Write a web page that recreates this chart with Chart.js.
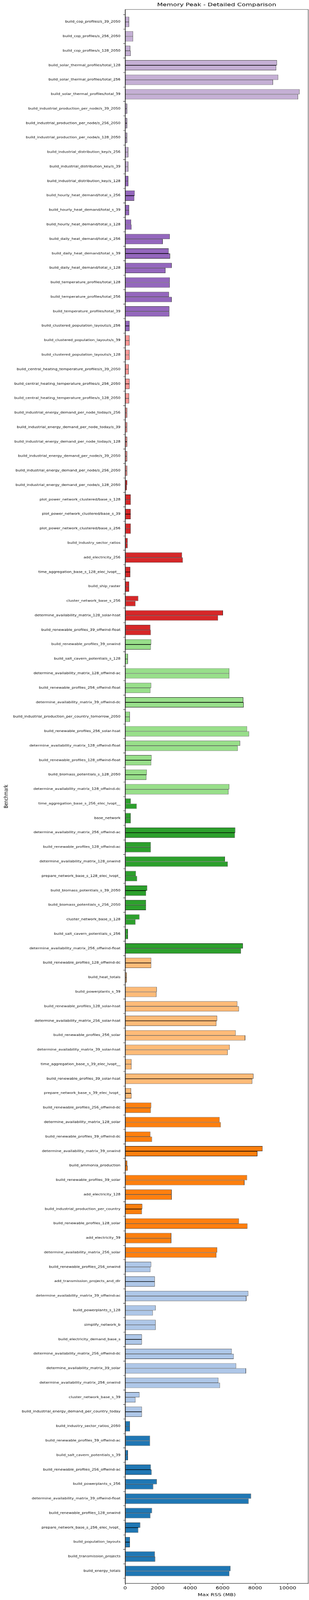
<!DOCTYPE html>
<html>
<head>
<meta charset="utf-8">
<title>Memory Peak - Detailed Comparison</title>
<script src="https://cdn.jsdelivr.net/npm/chart.js@4/dist/chart.umd.min.js"></script>
<style>
  html, body { margin: 0; padding: 0; width: 100%; height: 100%; background: #fff; overflow: hidden; }
  #wrap { position: absolute; left: 0; top: 0; width: 790px; height: 5390px; transform-origin: 0 0; }
  canvas { display: block; }
</style>
</head>
<body>
<div id="wrap"><canvas id="memChart" style="width:790px;height:5390px"></canvas></div>
<script>
// benchmarks, listed top to bottom as they appear on the chart
const benchmarks = [
  "build_cop_profiles/s_39_2050",
  "build_cop_profiles/s_256_2050",
  "build_cop_profiles/s_128_2050",
  "build_solar_thermal_profiles/total_128",
  "build_solar_thermal_profiles/total_256",
  "build_solar_thermal_profiles/total_39",
  "build_industrial_production_per_node/s_39_2050",
  "build_industrial_production_per_node/s_256_2050",
  "build_industrial_production_per_node/s_128_2050",
  "build_industrial_distribution_key/s_256",
  "build_industrial_distribution_key/s_39",
  "build_industrial_distribution_key/s_128",
  "build_hourly_heat_demand/total_s_256",
  "build_hourly_heat_demand/total_s_39",
  "build_hourly_heat_demand/total_s_128",
  "build_daily_heat_demand/total_s_256",
  "build_daily_heat_demand/total_s_39",
  "build_daily_heat_demand/total_s_128",
  "build_temperature_profiles/total_128",
  "build_temperature_profiles/total_256",
  "build_temperature_profiles/total_39",
  "build_clustered_population_layouts/s_256",
  "build_clustered_population_layouts/s_39",
  "build_clustered_population_layouts/s_128",
  "build_central_heating_temperature_profiles/s_39_2050",
  "build_central_heating_temperature_profiles/s_256_2050",
  "build_central_heating_temperature_profiles/s_128_2050",
  "build_industrial_energy_demand_per_node_today/s_256",
  "build_industrial_energy_demand_per_node_today/s_39",
  "build_industrial_energy_demand_per_node_today/s_128",
  "build_industrial_energy_demand_per_node/s_39_2050",
  "build_industrial_energy_demand_per_node/s_256_2050",
  "build_industrial_energy_demand_per_node/s_128_2050",
  "plot_power_network_clustered/base_s_128",
  "plot_power_network_clustered/base_s_39",
  "plot_power_network_clustered/base_s_256",
  "build_industry_sector_ratios",
  "add_electricity_256",
  "time_aggregation_base_s_128_elec_lvopt__",
  "build_ship_raster",
  "cluster_network_base_s_256",
  "determine_availability_matrix_128_solar-hsat",
  "build_renewable_profiles_39_offwind-float",
  "build_renewable_profiles_39_onwind",
  "build_salt_cavern_potentials_s_128",
  "determine_availability_matrix_128_offwind-ac",
  "build_renewable_profiles_256_offwind-float",
  "determine_availability_matrix_39_offwind-dc",
  "build_industrial_production_per_country_tomorrow_2050",
  "build_renewable_profiles_256_solar-hsat",
  "determine_availability_matrix_128_offwind-float",
  "build_renewable_profiles_128_offwind-float",
  "build_biomass_potentials_s_128_2050",
  "determine_availability_matrix_128_offwind-dc",
  "time_aggregation_base_s_256_elec_lvopt__",
  "base_network",
  "determine_availability_matrix_256_offwind-ac",
  "build_renewable_profiles_128_offwind-ac",
  "determine_availability_matrix_128_onwind",
  "prepare_network_base_s_128_elec_lvopt_",
  "build_biomass_potentials_s_39_2050",
  "build_biomass_potentials_s_256_2050",
  "cluster_network_base_s_128",
  "build_salt_cavern_potentials_s_256",
  "determine_availability_matrix_256_offwind-float",
  "build_renewable_profiles_128_offwind-dc",
  "build_heat_totals",
  "build_powerplants_s_39",
  "build_renewable_profiles_128_solar-hsat",
  "determine_availability_matrix_256_solar-hsat",
  "build_renewable_profiles_256_solar",
  "determine_availability_matrix_39_solar-hsat",
  "time_aggregation_base_s_39_elec_lvopt__",
  "build_renewable_profiles_39_solar-hsat",
  "prepare_network_base_s_39_elec_lvopt_",
  "build_renewable_profiles_256_offwind-dc",
  "determine_availability_matrix_128_solar",
  "build_renewable_profiles_39_offwind-dc",
  "determine_availability_matrix_39_onwind",
  "build_ammonia_production",
  "build_renewable_profiles_39_solar",
  "add_electricity_128",
  "build_industrial_production_per_country",
  "build_renewable_profiles_128_solar",
  "add_electricity_39",
  "determine_availability_matrix_256_solar",
  "build_renewable_profiles_256_onwind",
  "add_transmission_projects_and_dlr",
  "determine_availability_matrix_39_offwind-ac",
  "build_powerplants_s_128",
  "simplify_network_b",
  "build_electricity_demand_base_s",
  "determine_availability_matrix_256_offwind-dc",
  "determine_availability_matrix_39_solar",
  "determine_availability_matrix_256_onwind",
  "cluster_network_base_s_39",
  "build_industrial_energy_demand_per_country_today",
  "build_industry_sector_ratios_2050",
  "build_renewable_profiles_39_offwind-ac",
  "build_salt_cavern_potentials_s_39",
  "build_renewable_profiles_256_offwind-ac",
  "build_powerplants_s_256",
  "determine_availability_matrix_39_offwind-float",
  "build_renewable_profiles_128_onwind",
  "prepare_network_base_s_256_elec_lvopt_",
  "build_population_layouts",
  "build_transmission_projects",
  "build_energy_totals"
];

// max RSS in MB, upper bar of each pair
const rssUpper = [
  245, 490, 318, 9351, 9425, 10734, 122, 122, 122, 196,
  196, 196, 588, 245, 367, 2742, 2681, 2864, 2742, 2693,
  2717, 269, 269, 269, 220, 269, 245, 122, 122, 122,
  122, 122, 122, 343, 343, 343, 147, 3501, 318, 245,
  808, 6022, 1554, 1603, 171, 6414, 1603, 7271, 294, 7503,
  7075, 1628, 1334, 6414, 343, 343, 6781, 1579, 6144, 661,
  1359, 1285, 881, 171, 7246, 1603, 98, 1946, 6903, 5667,
  6805, 6438, 392, 7895, 367, 1603, 5814, 1554, 8458, 122,
  7503, 2864, 1053, 7001, 2840, 5667, 1603, 1824, 7577, 1873,
  1873, 1028, 6561, 6830, 5741, 881, 1028, 294, 1530, 171,
  1579, 1946, 7748, 1652, 930, 294, 1824, 6487
];

// max RSS in MB, lower bar of each pair
const rssLower = [
  245, 490, 343, 9302, 9107, 10649, 122, 122, 122, 196,
  196, 196, 563, 245, 392, 2313, 2766, 2485, 2742, 2864,
  2717, 269, 269, 269, 220, 269, 245, 122, 122, 122,
  122, 122, 98, 343, 343, 343, 147, 3550, 318, 245,
  636, 5716, 1579, 1579, 171, 6414, 1554, 7295, 294, 7626,
  6928, 1603, 1310, 6365, 710, 343, 6756, 1579, 6316, 734,
  1285, 1285, 636, 171, 7124, 1603, 98, 1922, 7001, 5618,
  7393, 6316, 392, 7821, 392, 1579, 5887, 1652, 8140, 147,
  7344, 2864, 1028, 7528, 2840, 5618, 1554, 1824, 7466, 1701,
  1873, 1028, 6683, 7442, 5838, 636, 1028, 294, 1530, 171,
  1628, 1726, 7601, 1554, 808, 294, 1848, 6414
];

const xTicks = [0, 2000, 4000, 6000, 8000, 10000];
const xMax = 11270;

// colour bands, top to bottom
const palette = ["#c5b0d5", "#9467bd", "#ff9896", "#d62728", "#98df8a",
                 "#2ca02c", "#ffbb78", "#ff7f0e", "#aec7e8", "#1f77b4"];
const bandSizes = [11, 11, 10, 11, 11, 11, 10, 11, 11, 11];

const barColors = [];
bandSizes.forEach((n, k) => { for (let i = 0; i < n; i++) barColors.push(palette[k]); });

// fit the 790x5390 drawing into whatever viewport the browser really has
const PAGE_W = 790, PAGE_H = 5390;
const wrap = document.getElementById("wrap");
function fitPage() {
  const sx = window.innerWidth / PAGE_W;
  const sy = window.innerHeight / PAGE_H;
  wrap.style.transform = (Math.abs(sx - 1) < 0.002 && Math.abs(sy - 1) < 0.002)
    ? "none" : `scale(${sx}, ${sy})`;
}
fitPage();
window.addEventListener("resize", fitPage);

Chart.defaults.font.family = "'DejaVu Sans', sans-serif";
Chart.defaults.color = "#000";

// matplotlib-style box around the plot
const frame = {
  id: "frame",
  afterDraw(chart) {
    const { ctx, chartArea: a } = chart;
    ctx.save();
    ctx.strokeStyle = "#000";
    ctx.lineWidth = 1;
    ctx.strokeRect(a.left, a.top, a.right - a.left, a.bottom - a.top);
    ctx.restore();
  }
};

const pairs = (vals) => vals.map((v, i) => ({ x: v, y: i }));

const barStyle = {
  backgroundColor: barColors,
  borderColor: "#000",
  borderWidth: 1,
  borderSkipped: false,
  categoryPercentage: 0.7,
  barPercentage: 1.0
};

new Chart(document.getElementById("memChart"), {
  type: "bar",
  data: {
    datasets: [
      Object.assign({ label: "upper", data: pairs(rssUpper) }, barStyle),
      Object.assign({ label: "lower", data: pairs(rssLower) }, barStyle)
    ]
  },
  plugins: [frame],
  options: {
    indexAxis: "y",
    responsive: false,
    animation: false,
    layout: { padding: { left: 0, right: 2, top: 0, bottom: 4.6 } },
    plugins: {
      legend: { display: false },
      tooltip: { enabled: false }
    },
    scales: {
      y: {
        type: "linear",
        reverse: true,
        min: -0.35,
        max: benchmarks.length - 1 + 0.35,
        afterFit: (s) => { s.width = 320; },
        ticks: {
          stepSize: 1,
          autoSkip: false,
          includeBounds: false,
          padding: 7,
          font: { size: 9.7, lineHeight: 1.2 },
          callback: (v) => benchmarks[Math.round(v)] || ""
        },
        grid: { display: true, drawOnChartArea: false, drawTicks: true, tickLength: 5, color: "#000" },
        border: { display: true, color: "#000", width: 1 },
        title: {
          display: true,
          text: "Benchmark",
          font: { size: 13.9, lineHeight: 1.2 },
          padding: { top: 8, bottom: 0 }
        }
      },
      x: {
        type: "linear",
        position: "bottom",
        min: 0,
        max: xMax,
        afterBuildTicks: (s) => { s.ticks = xTicks.map((v) => ({ value: v })); },
        ticks: {
          padding: 3,
          font: { size: 13.9, lineHeight: 1.2 },
          callback: (v) => String(v)
        },
        grid: { display: true, drawOnChartArea: false, drawTicks: true, tickLength: 5, color: "#000" },
        border: { display: true, color: "#000", width: 1 },
        title: {
          display: true,
          text: "Max RSS (MB)",
          font: { size: 13.9, lineHeight: 1.2 },
          padding: { top: 3, bottom: 4 }
        }
      },
      // only carries the chart title, centred over the plot area
      top: {
        type: "linear",
        position: "top",
        display: true,
        ticks: { display: false },
        grid: { display: false, drawTicks: false },
        border: { display: false },
        title: {
          display: true,
          text: "Memory Peak - Detailed Comparison",
          font: { size: 16.7, lineHeight: 1.2 },
          padding: { top: 7, bottom: 5 }
        }
      }
    }
  }
});
</script>
</body>
</html>
